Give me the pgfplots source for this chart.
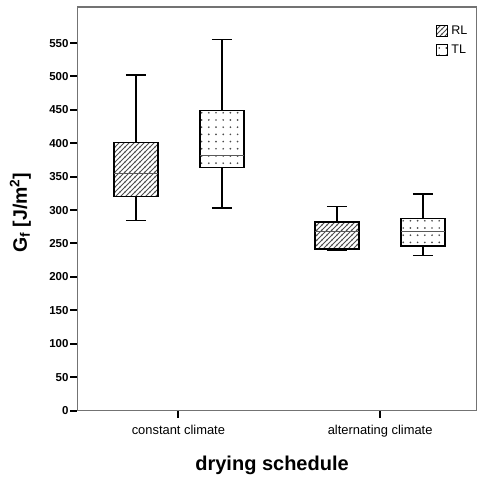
\documentclass[border=0pt]{standalone}
\usepackage{fontspec}
\setmainfont{Liberation Sans}
\usepackage{pgfplots}
\pgfplotsset{compat=1.18}
\usetikzlibrary{patterns}

\pgfdeclarepatternformonly{myhatch}{\pgfqpoint{0pt}{0pt}}{\pgfqpoint{4.8pt}{4.8pt}}{\pgfqpoint{4.8pt}{4.8pt}}{
  \pgfsetlinewidth{0.9pt}
  \pgfpathmoveto{\pgfqpoint{-1pt}{-1pt}}\pgfpathlineto{\pgfqpoint{5.8pt}{5.8pt}}
  \pgfpathmoveto{\pgfqpoint{-1pt}{3.8pt}}\pgfpathlineto{\pgfqpoint{1pt}{5.8pt}}
  \pgfpathmoveto{\pgfqpoint{3.8pt}{-1pt}}\pgfpathlineto{\pgfqpoint{5.8pt}{1pt}}
  \pgfusepath{stroke}}
\pgfdeclarepatternformonly{mydots}{\pgfqpoint{-1.2pt}{-1.2pt}}{\pgfqpoint{1.2pt}{1.2pt}}{\pgfqpoint{7.2pt}{7.2pt}}{
  \pgfpathcircle{\pgfpointorigin}{0.95pt}\pgfusepath{fill}}

% #1 position, #2 lower whisker, #3 lower quartile, #4 median, #5 upper quartile, #6 upper whisker, #7 pattern
\newcommand{\boxp}[7]{%
  \addplot[forget plot, draw=black, line width=1.3pt] coordinates {(#1,#2) (#1,#3)};
  \addplot[forget plot, draw=black, line width=1.3pt] coordinates {(#1,#5) (#1,#6)};
  \addplot[forget plot, draw=black, line width=1.3pt] coordinates {({#1-0.05},#2) ({#1+0.05},#2)};
  \addplot[forget plot, draw=black, line width=1.3pt] coordinates {({#1-0.05},#6) ({#1+0.05},#6)};
  \addplot[forget plot, draw=black, line width=1.4pt, pattern=#7, pattern color=black!70]
    coordinates {({#1-0.109},#3) ({#1+0.109},#3) ({#1+0.109},#5) ({#1-0.109},#5)} -- cycle;
  \addplot[forget plot, draw=black!65, line width=0.9pt] coordinates {({#1-0.109},#4) ({#1+0.109},#4)};
}

\begin{document}
\begin{tikzpicture}
\useasboundingbox (-77.5pt,-69.5pt) rectangle (399.5pt,410.5pt);
\begin{axis}[
  at={(0pt,0pt)}, anchor=south west,
  scale only axis, width=399.5pt, height=403.5pt,
  xmin=0.5, xmax=2.48, ymin=0, ymax=604,
  /pgf/number format/assume math mode=true,
  axis line style={draw=black!55, line width=1.1pt},
  tick pos=left, tick align=outside,
  major tick length=7pt,
  tick style={black, line width=2pt},
  ytick={0,50,100,150,200,250,300,350,400,450,500,550},
  xtick={1,2},
  xticklabels={constant climate, alternating climate},
  yticklabel style={font=\fontsize{11.5}{13}\selectfont\bfseries, xshift=1.5pt},
  xticklabel style={font=\fontsize{12.9}{14}\selectfont, yshift=-4pt},
  xlabel={\textbf{drying schedule}},
  ylabel={\textbf{G\textsubscript{f} [J/m\textsuperscript{2}]}},
  xlabel style={font=\fontsize{20}{22}\selectfont, at={(axis description cs:0.487,-0.137)}, anchor=center},
  ylabel style={font=\fontsize{19.5}{22}\selectfont, at={(axis description cs:-0.143,0.49)}, anchor=center},
  legend style={at={(axis description cs:0.889,0.963)}, anchor=north west, draw=none, fill=none,
     font=\fontsize{12.5}{14}\selectfont, row sep=5pt},
  legend cell align=left,
  legend image code/.code={\draw[#1, line width=0.8pt] (0pt,-5.5pt) rectangle (11pt,5.5pt); \path (13pt,0pt);},
]
\boxp{0.79}{284}{320}{355}{401}{502}{myhatch}
\boxp{1.216}{303}{364}{382}{449}{555}{mydots}
\boxp{1.786}{239}{242}{268}{282}{305}{myhatch}
\boxp{2.212}{232}{246}{268}{287}{324}{mydots}
\addlegendimage{draw=black, pattern=myhatch, pattern color=black!70}
\addlegendentry{RL}
\addlegendimage{draw=black, pattern=mydots, pattern color=black!80}
\addlegendentry{TL}
\end{axis}
\end{tikzpicture}
\end{document}
